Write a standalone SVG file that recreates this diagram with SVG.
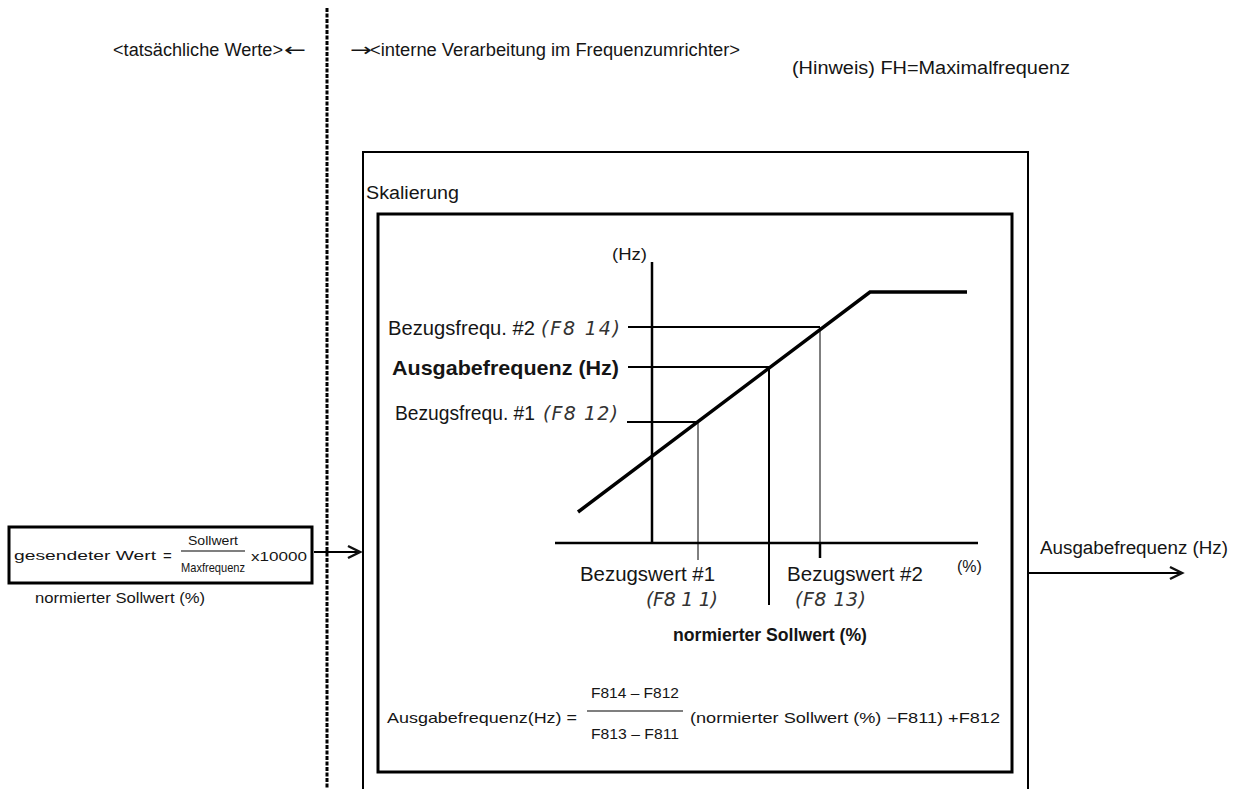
<svg xmlns="http://www.w3.org/2000/svg" width="1254" height="789" viewBox="0 0 1254 789">
<defs>
<marker id="arr" markerUnits="userSpaceOnUse" markerWidth="20" markerHeight="16" refX="14" refY="8" orient="auto">
<path d="M2,2 L14,8 L2,14" fill="none" stroke="#111" stroke-width="2.5"/>
</marker>
<style>
text{font-family:"Liberation Sans Narrow","Liberation Sans",Arial,sans-serif;fill:#151515}
.t18{font-size:18px}
.lbl{font-size:21px}
.b{font-weight:bold}
.seg{font-family:"DejaVu Sans",sans-serif;font-style:italic;font-weight:200;fill:#333;font-size:19px}
.f15{font-size:15px}
.f13{font-size:13px}
.arw{font-family:"DejaVu Sans",sans-serif;font-size:18px}
.ln{stroke:#000;fill:none}
</style>
</defs>

<g id="header">
<text class="t18" x="113" y="56" textLength="170" lengthAdjust="spacingAndGlyphs">&lt;tatsächliche Werte&gt;</text>
<text class="arw" x="284" y="56" textLength="22" lengthAdjust="spacingAndGlyphs">←</text>
<text class="arw" x="350" y="56" textLength="22" lengthAdjust="spacingAndGlyphs">→</text>
<text class="t18" x="370" y="56" textLength="370" lengthAdjust="spacingAndGlyphs">&lt;interne Verarbeitung im Frequenzumrichter&gt;</text>
<text class="t18" x="792" y="74" textLength="278" lengthAdjust="spacingAndGlyphs">(Hinweis) FH=Maximalfrequenz</text>
<line x1="327" y1="8" x2="327" y2="789" stroke="#000" stroke-width="3" stroke-dasharray="4 1.5"/>
</g>

<g id="input">
<rect x="9" y="527" width="303" height="56" fill="none" stroke="#000" stroke-width="3"/>
<text class="f13" x="14" y="560" textLength="142" lengthAdjust="spacingAndGlyphs">gesendeter Wert</text>
<text class="f15" x="163" y="561">=</text>
<text class="f13" x="213" y="545" text-anchor="middle" textLength="50" lengthAdjust="spacingAndGlyphs">Sollwert</text>
<line x1="181" y1="551" x2="245" y2="551" stroke="#000" stroke-width="1.2"/>
<text class="f13" x="213" y="572" text-anchor="middle" textLength="64" lengthAdjust="spacingAndGlyphs">Maxfrequenz</text>
<text class="f13" x="251" y="561" textLength="56" lengthAdjust="spacingAndGlyphs">x10000</text>
<text class="f15" x="35" y="603" textLength="170" lengthAdjust="spacingAndGlyphs">normierter Sollwert (%)</text>
</g>

<g id="scaling">
<rect x="363" y="152" width="665" height="660" fill="none" stroke="#000" stroke-width="2"/>
<text class="t18" x="366" y="199" textLength="93" lengthAdjust="spacingAndGlyphs">Skalierung</text>
<rect x="378" y="214" width="634" height="558" fill="none" stroke="#000" stroke-width="3"/>
</g>

<g id="chart">
<line class="ln" x1="652" y1="262" x2="652" y2="543" stroke-width="2.5"/>
<line class="ln" x1="555" y1="543" x2="978" y2="543" stroke-width="2.5"/>
<polyline class="ln" points="578,512 870,292 967,292" stroke-width="3.5"/>
<line class="ln" x1="628" y1="327" x2="820" y2="327" stroke-width="2"/>
<line class="ln" x1="628" y1="367" x2="769" y2="367" stroke-width="2"/>
<line class="ln" x1="627" y1="422" x2="698" y2="422" stroke-width="2"/>
<line class="ln" x1="698" y1="422" x2="698" y2="560" stroke-width="1"/>
<line class="ln" x1="769" y1="367" x2="769" y2="605" stroke-width="2"/>
<line class="ln" x1="820" y1="327" x2="820" y2="543" stroke-width="1"/>
<line class="ln" x1="820" y1="543" x2="820" y2="558" stroke-width="2.5"/>
<text x="612" y="260" style="font-size:16px" textLength="35" lengthAdjust="spacingAndGlyphs">(Hz)</text>
<text class="lbl" x="388" y="335" textLength="147" lengthAdjust="spacingAndGlyphs">Bezugsfrequ. #2</text>
<text class="seg" x="541" y="335" textLength="79" lengthAdjust="spacing">(F8 14)</text>
<text class="lbl b" x="392" y="375" textLength="227" lengthAdjust="spacingAndGlyphs">Ausgabefrequenz (Hz)</text>
<text class="lbl" x="395" y="420" textLength="140" lengthAdjust="spacingAndGlyphs">Bezugsfrequ. #1</text>
<text class="seg" x="543" y="420" textLength="75" lengthAdjust="spacing">(F8 12)</text>
<text class="lbl" x="580" y="581" textLength="135" lengthAdjust="spacingAndGlyphs">Bezugswert #1</text>
<text class="seg" x="646" y="606" textLength="72" lengthAdjust="spacing">(F8 1 1)</text>
<text class="lbl" x="787" y="581" textLength="136" lengthAdjust="spacingAndGlyphs">Bezugswert #2</text>
<text class="seg" x="795" y="606" textLength="71" lengthAdjust="spacing">(F8 13)</text>
<text x="957" y="572" style="font-size:16px">(%)</text>
<text class="b" x="673" y="641" style="font-size:19px" textLength="194" lengthAdjust="spacingAndGlyphs">normierter Sollwert (%)</text>
</g>

<g id="formula">
<text class="f15" x="387" y="723" textLength="190" lengthAdjust="spacingAndGlyphs">Ausgabefrequenz(Hz) =</text>
<text class="f15" x="635" y="698" text-anchor="middle" textLength="88" lengthAdjust="spacingAndGlyphs">F814 – F812</text>
<line x1="587" y1="711" x2="683" y2="711" stroke="#000" stroke-width="1.2"/>
<text class="f15" x="635" y="739" text-anchor="middle" textLength="88" lengthAdjust="spacingAndGlyphs">F813 – F811</text>
<text class="f15" x="690" y="723" textLength="310" lengthAdjust="spacingAndGlyphs">(normierter Sollwert (%) −F811) +F812</text>
</g>

<g id="connectors">
<line x1="314" y1="552" x2="360" y2="552" stroke="#000" stroke-width="2" marker-end="url(#arr)"/>
<line x1="1028" y1="573" x2="1182" y2="573" stroke="#000" stroke-width="2" marker-end="url(#arr)"/>
</g>

<g id="output">
<text class="t18" x="1040" y="554" textLength="188" lengthAdjust="spacingAndGlyphs">Ausgabefrequenz (Hz)</text>
</g>
</svg>
